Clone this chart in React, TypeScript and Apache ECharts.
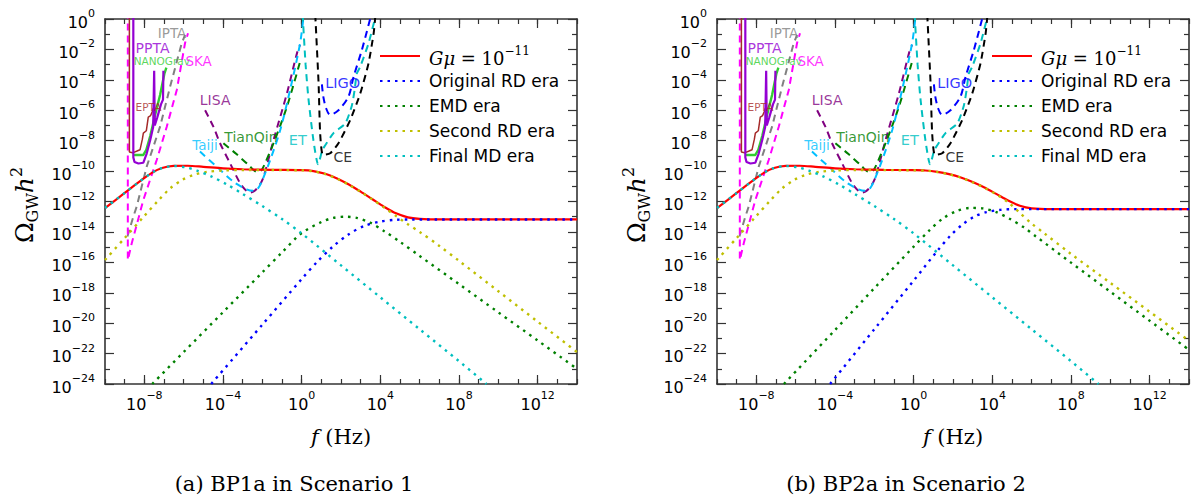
import React, { useEffect, useRef } from 'react';
import * as echarts from 'echarts';

type P = [number, number];

// Axes are log10(f / Hz) and log10(Omega_GW h^2)
const X_MIN = -10;
const X_MAX = 14;
const Y_MIN = -24;
const Y_MAX = 0;
const X_LABEL_EXPONENTS = [-8, -4, 0, 4, 8, 12];

const LEGEND_NAMES = ['Gμ = 10^−11', 'Original RD era', 'EMD era', 'Second RD era', 'Final MD era'];
const CAPTIONS = ['(a) BP1a in Scenario 1', '(b) BP2a in Scenario 2'];

// ---------- theory curves, panel (a) ----------
const redA: P[] = [[-10, -12.43], [-9, -11.44], [-8.2, -10.65], [-7.6, -10.1], [-7.1, -9.8], [-6.5, -9.66], [-5.8, -9.65], [-5, -9.72], [-4, -9.82], [-3, -9.88], [-1.5, -9.92], [0, -9.94], [0.6, -10.0], [1.2, -10.18], [1.8, -10.48], [2.4, -10.88], [3, -11.35], [3.6, -11.85], [4.2, -12.35], [4.8, -12.78], [5.4, -13.04], [6, -13.14], [7, -13.18], [14, -13.18]];
const blueA: P[] = [[-4.6, -24], [-2, -20.1], [0, -17.1], [0.8, -15.95], [1.6, -14.95], [2.4, -14.15], [3.2, -13.6], [4, -13.32], [4.8, -13.2], [5.6, -13.18], [14, -13.18]];
const greenA: P[] = [[-7.6, -24], [-6, -21.9], [-4, -19.28], [-2, -16.66], [-1, -15.35], [0, -14.08], [1, -13.35], [1.6, -13.08], [2.2, -13.0], [2.8, -13.08], [3.5, -13.4], [4.2, -13.95], [5, -14.65], [6, -15.58], [8, -17.43], [10, -19.29], [12, -21.14], [14, -23.0]];
const yellowA: P[] = [[-10, -15.85], [-9, -14.4], [-8, -12.95], [-7.3, -11.95], [-6.7, -11.15], [-6.1, -10.6], [-5.5, -10.25], [-4.8, -10.05], [-4, -9.96], [-3, -9.93], [0, -9.95], [0.6, -10.02], [1.2, -10.2], [1.8, -10.5], [2.4, -10.9], [3, -11.37], [3.6, -11.87], [4.2, -12.4], [4.8, -12.95], [5.4, -13.5], [6, -14.0], [7, -14.92], [8, -15.9], [10, -17.9], [12, -19.9], [14, -21.9]];
const cyanA: P[] = [[-10, -12.43], [-9, -11.44], [-8.2, -10.65], [-7.6, -10.1], [-7.1, -9.8], [-6.5, -9.67], [-5.9, -9.75], [-5.3, -9.98], [-4.6, -10.35], [-3.8, -10.88], [-3, -11.5], [-2, -12.3], [-1, -13.15], [0, -14.1], [2, -16.2], [4, -18.3], [6, -20.4], [8, -22.5], [9.4, -24]];

// ---------- theory curves, panel (b) ----------
const redB: P[] = [[-10, -12.43], [-9, -11.44], [-8.2, -10.65], [-7.6, -10.1], [-7.1, -9.8], [-6.5, -9.66], [-5.8, -9.65], [-5, -9.72], [-4, -9.82], [-3, -9.88], [-1.5, -9.92], [0, -9.94], [0.6, -9.96], [1.2, -10.05], [1.8, -10.2], [2.4, -10.42], [3, -10.72], [3.6, -11.08], [4.2, -11.5], [4.8, -11.93], [5.4, -12.28], [6, -12.45], [7, -12.5], [14, -12.5]];
const blueB: P[] = [[-4.25, -24], [-2, -20.4], [0, -17.2], [1.2, -15.25], [1.9, -14.2], [2.5, -13.5], [3.1, -12.98], [3.7, -12.7], [4.4, -12.55], [5.2, -12.5], [14, -12.5]];
const greenB: P[] = [[-6.6, -24], [-4, -20.45], [-2, -17.7], [0, -14.97], [0.8, -13.9], [1.5, -13.1], [2.2, -12.62], [2.9, -12.42], [3.5, -12.45], [4.2, -12.7], [4.9, -13.15], [5.6, -13.7], [6.2, -14.28], [8, -16.02], [10, -17.93], [12, -19.84], [14, -21.75]];
const yellowB: P[] = [[-10, -15.85], [-9, -14.4], [-8, -12.95], [-7.3, -11.95], [-6.7, -11.15], [-6.1, -10.6], [-5.5, -10.25], [-4.8, -10.05], [-4, -9.96], [-3, -9.93], [0, -9.95], [0.6, -9.97], [1.2, -10.06], [1.8, -10.21], [2.4, -10.43], [3, -10.74], [3.6, -11.1], [4.2, -11.53], [4.8, -12.05], [5.4, -12.75], [6, -13.45], [6.6, -14.05], [8, -15.45], [10, -17.35], [12, -19.25], [14, -21.15]];
const cyanB: P[] = [[-10, -12.43], [-9, -11.44], [-8.2, -10.65], [-7.6, -10.1], [-7.1, -9.8], [-6.5, -9.67], [-5.9, -9.75], [-5.3, -9.98], [-4.6, -10.35], [-3.8, -10.88], [-3, -11.5], [-2, -12.3], [-1, -13.15], [0, -14.1], [2, -16.2], [4, -18.3], [6, -20.4], [8, -22.5], [9.4, -24]];

// ---------- detector sensitivity curves (same in both panels) ----------
const ipta: P[] = [[-8.86, -14.3], [-8.56, -13.0], [-8.39, -12.34], [-7.88, -9.71], [-7.2, -7.08], [-6.69, -4.45], [-6.1, -1.6], [-5.93, -1.05]];
const ska: P[] = [[-8.84, 0.5], [-8.84, -15.85], [-8.64, -14.75], [-8.05, -11.9], [-7.37, -9.27], [-6.86, -7.08], [-6.35, -4.67], [-5.93, -1.58], [-5.78, -0.94]];
const epta: P[] = [[-8.76, 0.5], [-8.76, -8.75], [-8.6, -8.8], [-8.4, -8.7], [-8.22, -8.6], [-8.1, -7.9], [-8.05, -7.5], [-7.9, -7.35], [-7.8, -6.45], [-7.68, -6.35], [-7.6, -6.1], [-7.54, -5.85]];
const nanograv: P[] = [[-8.56, -8.94], [-8.05, -8.94], [-7.9, -8.6], [-7.7, -7.7], [-7.45, -6.3], [-7.2, -5.0], [-6.98, -3.6], [-6.88, -3.2]];
const ppta: P[] = [[-8.56, 0.5], [-8.56, -9.1], [-8.5, -9.4], [-8.3, -9.5], [-8.05, -9.45], [-7.88, -8.85], [-7.7, -7.95], [-7.55, -7.1], [-7.5, -3.4], [-7.47, -7.0], [-7.35, -6.5], [-7.15, -5.6], [-7.05, -5.3], [-7.03, -3.4]];
const lisa: P[] = [[-4.91, -6.0], [-4.49, -7.08], [-4.15, -8.17], [-3.64, -9.49], [-3.13, -10.8], [-2.85, -11.25], [-2.65, -11.42], [-2.4, -11.3], [-2.15, -10.95], [-1.94, -10.4], [-1.43, -7.96], [-0.75, -4.89], [-0.24, -2.26], [-0.08, -1.71]];
const taiji: P[] = [[-5.17, -8.72], [-4.32, -9.71], [-3.47, -10.7], [-2.8, -11.2], [-2.45, -11.3], [-2.2, -11.1], [-2.0, -10.6], [-1.6, -9.27], [-1.09, -7.3], [-0.59, -4.67], [-0.08, -1.6], [0.1, 0.2]];
const tianqin: P[] = [[-3.98, -8.17], [-3.3, -8.9], [-2.7, -9.6], [-2.28, -10.04], [-2.05, -9.95], [-1.94, -9.71], [-1.43, -8.17], [-0.75, -5.77], [-0.08, -2.8]];
const et: P[] = [[0.05, 0.3], [0.2, -3.0], [0.35, -5.3], [0.6, -8.0], [0.83, -9.55], [0.95, -9.1], [1.05, -8.6], [1.2, -8.3], [1.62, -7.5], [2.22, -6.86], [2.55, -5.7], [2.7, -4.6], [2.8, -3.6], [2.98, -3.13], [3.4, -1.6], [3.74, 0.1]];
const ligo: P[] = [[1.03, -4.3], [1.1, -5.1], [1.25, -5.9], [1.45, -6.3], [1.87, -6.0], [2.38, -5.1], [2.64, -3.8], [3.06, -2.04], [3.5, 0.1]];
const ce: P[] = [[0.69, 0.3], [0.86, -4.23], [0.94, -7.5], [1.08, -8.94], [1.45, -8.83], [1.87, -8.17], [2.47, -6.64], [2.98, -4.89], [3.4, -2.91], [3.66, -0.94], [3.74, 0.1]];

// detector labels: [name, log f, log Omega, color, font size]
const DETECTOR_LABELS: [string, number, number, string, number][] = [
  ['IPTA', -6.59, -0.92, '#808080', 13.5],
  ['PPTA', -7.58, -1.91, '#9400d3', 14],
  ['NANOGrav', -7.11, -2.76, '#32cd32', 10.5],
  ['SKA', -5.24, -2.76, '#ff00ff', 13.5],
  ['EPTA', -7.79, -5.79, '#a52a2a', 10.5],
  ['LISA', -4.4, -5.33, '#800080', 14],
  ['TianQin', -2.58, -7.76, '#008000', 14],
  ['Taiji', -4.91, -8.28, '#00bfff', 13.5],
  ['ET', -0.2, -7.96, '#00bfbf', 14.5],
  ['LIGO', 2.09, -4.21, '#0000ff', 14.5],
  ['CE', 2.09, -9.07, '#000000', 14],
];

const GRID_LEFTS = [105, 717];
const GRID_TOP = 19;
const GRID_W = 472;
const GRID_H = 365;

const SANS = 'DejaVu Sans';
const SERIF = 'DejaVu Serif';
const AX = '#333333';

const supFmt = (v: number) => {
  const n = Math.round(v);
  const s = n < 0 ? '−' + Math.abs(n) : String(n);
  return `{b|10}{s|${s}}`;
};
const tickRich = {
  b: { fontFamily: SANS, fontSize: 16, color: '#000', lineHeight: 22, verticalAlign: 'bottom' },
  s: { fontFamily: SANS, fontSize: 11, color: '#000', lineHeight: 12, verticalAlign: 'top' },
};

const DOT = [2.5, 5];
const DASH = [7, 5];

function theory(name: string, data: P[], color: string, solid: boolean, xi: number, yi: number) {
  return {
    type: 'line', name, data, xAxisIndex: xi, yAxisIndex: yi,
    symbol: 'none', showSymbol: false, smooth: 0.3,
    color, itemStyle: { color },
    lineStyle: { color, width: solid ? 2.2 : 2.4, type: solid ? 'solid' : DOT, cap: 'butt' },
    z: solid ? 3 : 4, silent: true, clip: true,
  };
}
function detector(name: string, data: P[], color: string, width: number, dashed: boolean, smooth: number, xi: number, yi: number) {
  return {
    type: 'line', name, data, xAxisIndex: xi, yAxisIndex: yi,
    symbol: 'none', showSymbol: false, smooth,
    color, itemStyle: { color },
    lineStyle: { color, width, type: dashed ? DASH : 'solid' },
    z: 2, silent: true, clip: true,
  };
}

function panelSeries(p: number) {
  const xi = p * 4;
  const yi = p * 2;
  const th = p === 0
    ? { red: redA, blue: blueA, green: greenA, yellow: yellowA, cyan: cyanA }
    : { red: redB, blue: blueB, green: greenB, yellow: yellowB, cyan: cyanB };
  return [
    detector('IPTA', ipta, '#808080', 2, true, 0, xi, yi),
    detector('SKA', ska, '#ff00ff', 2, true, 0, xi, yi),
    detector('EPTA', epta, '#a52a2a', 1.5, false, 0, xi, yi),
    detector('NANOGrav', nanograv, '#32cd32', 2.4, false, 0, xi, yi),
    detector('PPTA', ppta, '#9400d3', 2.2, false, 0, xi, yi),
    detector('LISA', lisa, '#800080', 2, true, 0.3, xi, yi),
    detector('TianQin', tianqin, '#008000', 2, true, 0.3, xi, yi),
    detector('Taiji', taiji, '#00bfff', 2, true, 0.3, xi, yi),
    detector('ET', et, '#00bfbf', 2, true, 0.2, xi, yi),
    detector('LIGO', ligo, '#0000ff', 2, true, 0.3, xi, yi),
    detector('CE', ce, '#000000', 2, true, 0.2, xi, yi),
    theory(LEGEND_NAMES[0], th.red, '#ff0000', true, xi, yi),
    theory(LEGEND_NAMES[1], th.blue, '#0000ff', false, xi, yi),
    theory(LEGEND_NAMES[2], th.green, '#008000', false, xi, yi),
    theory(LEGEND_NAMES[3], th.yellow, '#bfbf00', false, xi, yi),
    theory(LEGEND_NAMES[4], th.cyan, '#00bfbf', false, xi, yi),
    {
      type: 'scatter', name: 'labels', xAxisIndex: xi, yAxisIndex: yi,
      symbolSize: 1, itemStyle: { color: 'rgba(0,0,0,0)' }, silent: true, z: 6,
      data: DETECTOR_LABELS.map(([n, x, y, c, fs]) => ({
        name: n, value: [x, y],
        label: { show: true, position: 'inside', formatter: '{b}', color: c, fontSize: fs, fontFamily: SANS },
      })),
    },
  ];
}

const axLine = { show: true, onZero: false, lineStyle: { color: AX, width: 1.6 } };
function xAxes(p: number) {
  const base = { type: 'value', gridIndex: p, min: X_MIN, max: X_MAX, splitLine: { show: false } };
  return [
    { ...base, position: 'bottom', interval: 1, axisLine: axLine, axisTick: { show: true, inside: true, length: 5, lineStyle: { color: AX, width: 1.2 } }, axisLabel: { show: false } },
    { ...base, position: 'bottom', interval: 1, axisLine: { show: false, onZero: false }, axisTick: { show: true, inside: true, length: 9, customValues: X_LABEL_EXPONENTS, lineStyle: { color: AX, width: 1.2 } }, axisLabel: { show: true, customValues: X_LABEL_EXPONENTS, margin: 6, formatter: (v: number) => (Math.round(v) % 4 === 0 ? supFmt(v) : ''), rich: tickRich } },
    { ...base, position: 'top', interval: 1, axisLine: axLine, axisTick: { show: true, inside: true, length: 5, lineStyle: { color: AX, width: 1.2 } }, axisLabel: { show: false } },
    { ...base, position: 'top', interval: 1, axisLine: { show: false, onZero: false }, axisTick: { show: true, inside: true, length: 9, customValues: X_LABEL_EXPONENTS, lineStyle: { color: AX, width: 1.2 } }, axisLabel: { show: false } },
  ];
}
function yAxes(p: number) {
  const base = {
    type: 'value', gridIndex: p, min: Y_MIN, max: Y_MAX, interval: 2, splitLine: { show: false },
    axisLine: axLine,
    axisTick: { show: true, inside: true, length: 9, lineStyle: { color: AX, width: 1.2 } },
    minorTick: { show: true, splitNumber: 2, length: 5, lineStyle: { color: AX, width: 1.2 } },
    minorSplitLine: { show: false },
  };
  return [
    { ...base, position: 'left', axisLabel: { show: true, margin: 10, formatter: supFmt, rich: tickRich } },
    { ...base, position: 'right', axisLabel: { show: false } },
  ];
}

const legendRich = {
  i: { fontFamily: SERIF, fontStyle: 'italic', fontSize: 18, color: '#000', lineHeight: 22, verticalAlign: 'bottom' },
  m: { fontFamily: SERIF, fontSize: 18, color: '#000', lineHeight: 22, verticalAlign: 'bottom' },
  s: { fontFamily: SERIF, fontSize: 12, color: '#000', lineHeight: 12, verticalAlign: 'top' },
};
function legend(p: number) {
  return {
    orient: 'vertical', left: GRID_LEFTS[p] + 269, top: 40,
    itemWidth: 40, itemHeight: 14, itemGap: 3,
    data: LEGEND_NAMES, selectedMode: false,
    itemStyle: { opacity: 0 },
    textStyle: { fontFamily: SANS, fontSize: 17, color: '#000', lineHeight: 22, padding: [0, 0, 0, 4], rich: legendRich },
    formatter: (name: string) => (name === LEGEND_NAMES[0] ? '{i|Gμ}{m| = 10}{s|−11}' : name),
  };
}

function graphics() {
  const out: any[] = [];
  [0, 1].forEach((p) => {
    const off = p * 612;
    out.push({
      type: 'text', x: 24 + off, y: 205, rotation: Math.PI / 2,
      style: {
        text: '{o|Ω}{sub|GW}{h|h}{sup|2}', align: 'center', verticalAlign: 'middle',
        rich: {
          o: { fontFamily: SERIF, fontSize: 25, fill: '#000', lineHeight: 32, verticalAlign: 'middle' },
          sub: { fontFamily: SERIF, fontSize: 16, fill: '#000', lineHeight: 14, verticalAlign: 'bottom' },
          h: { fontFamily: SERIF, fontStyle: 'italic', fontSize: 25, fill: '#000', lineHeight: 32, verticalAlign: 'middle' },
          sup: { fontFamily: SERIF, fontSize: 16, fill: '#000', lineHeight: 14, verticalAlign: 'top' },
        },
      },
    });
    out.push({
      type: 'text', x: 341 + off, y: 437,
      style: {
        text: '{f|f}{n| (Hz)}', align: 'center', verticalAlign: 'middle',
        rich: {
          f: { fontFamily: SERIF, fontStyle: 'italic', fontSize: 21, fill: '#000' },
          n: { fontFamily: SERIF, fontSize: 21, fill: '#000' },
        },
      },
    });
    out.push({
      type: 'text', x: 294 + off, y: 484,
      style: { text: CAPTIONS[p], align: 'center', verticalAlign: 'middle', fontFamily: SERIF, fontSize: 21, fill: '#000' },
    });
  });
  return out;
}

export default function App() {
  const ref = useRef<HTMLDivElement>(null);
  useEffect(() => {
    if (!ref.current) return;
    const chart = echarts.init(ref.current, undefined, { renderer: 'svg' });
    chart.setOption({
      animation: false,
      backgroundColor: '#ffffff',
      grid: GRID_LEFTS.map((l) => ({ left: l, top: GRID_TOP, width: GRID_W, height: GRID_H })),
      xAxis: [...xAxes(0), ...xAxes(1)],
      yAxis: [...yAxes(0), ...yAxes(1)],
      legend: [legend(0), legend(1)],
      series: [...panelSeries(0), ...panelSeries(1)],
      graphic: graphics(),
    } as any);
    return () => chart.dispose();
  }, []);
  return <div ref={ref} style={{ position: 'fixed', left: 0, top: 0, width: 1191, height: 496, background: '#fff' }} />;
}
